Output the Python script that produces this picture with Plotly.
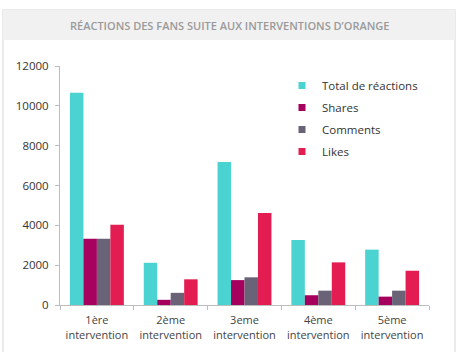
import plotly.graph_objects as go

categories = ["1ère<br>intervention", "2ème<br>intervention", "3eme<br>intervention",
              "4ème<br>intervention", "5ème<br>intervention"]
total = [10660, 2120, 7180, 3260, 2780]
shares = [3330, 260, 1250, 490, 420]
comments = [3330, 610, 1390, 720, 720]
likes = [4030, 1290, 4620, 2140, 1720]

series = [
    ("Total de réactions", total, "#4AD3D0"),
    ("Shares", shares, "#A6005E"),
    ("Comments", comments, "#6A6276"),
    ("Likes", likes, "#E31D51"),
]

W, H = 462, 352
L, R, T, B = 60, 33, 66, 47
pw, ph = W - L - R, H - T - B

def px(x):
    return (x - L) / pw

def py(y):
    return (H - B - y) / ph

fig = go.Figure()
for i, (name, vals, col) in enumerate(series):
    fig.add_trace(go.Bar(x=categories, y=vals, name=name, marker_color=col,
                         marker_line_width=0, showlegend=False))
for i, (name, vals, col) in enumerate(series):
    fig.add_trace(go.Scatter(x=[None], y=[None], mode="markers", name=name,
                             legendgroup="g%d" % i,
                             marker=dict(symbol="square", size=7, color=col)))

fig.update_layout(
    width=W, height=H,
    margin=dict(l=L, r=R, t=T, b=B, autoexpand=False),
    paper_bgcolor="white", plot_bgcolor="white",
    barmode="group", bargap=0.27, bargroupgap=0,
    font=dict(family="Open Sans, sans-serif", size=11, color="#333333"),
    showlegend=True,
    legend=dict(x=px(282), y=py(71), xanchor="left", yanchor="top",
                bgcolor="rgba(0,0,0,0)", font=dict(size=11.5, color="#333333"),
                itemwidth=30, tracegroupgap=3, itemclick=False),
    xaxis=dict(showline=True, linecolor="#BDBDBD", linewidth=1, automargin=False,
               ticks="outside", tickcolor="#BDBDBD", ticklen=4,
               tickson="boundaries", ticklabelstandoff=5,
               showgrid=False, tickfont=dict(size=11, color="#444444")),
    yaxis=dict(range=[0, 12000], tickvals=[0, 2000, 4000, 6000, 8000, 10000, 12000],
               tickformat="d", ticklabelstandoff=4, automargin=False,
               showline=True, linecolor="#BDBDBD", linewidth=1,
               ticks="outside", tickcolor="#BDBDBD", ticklen=4,
               showgrid=False, zeroline=False,
               tickfont=dict(size=11.5, color="#333333")),
    shapes=[
        dict(type="rect", xref="paper", yref="paper",
             x0=px(3), x1=px(455), y0=py(360), y1=py(10),
             line=dict(color="#E4E4E4", width=1.5), fillcolor="rgba(0,0,0,0)", layer="below"),
        dict(type="rect", xref="paper", yref="paper",
             x0=px(3), x1=px(455), y0=py(40), y1=py(10),
             line=dict(width=0), fillcolor="#F1F1F1", layer="below"),
    ],
    annotations=[
        dict(text="RÉACTIONS DES FANS SUITE AUX INTERVENTIONS D’ORANGE",
             xref="paper", yref="paper", x=px(229), y=py(25),
             xanchor="center", yanchor="middle", showarrow=False,
             font=dict(family="Open Sans, sans-serif", size=11, color="#9A9A9A",
                       weight=600)),
    ],
)

fig.write_html("out.html")
